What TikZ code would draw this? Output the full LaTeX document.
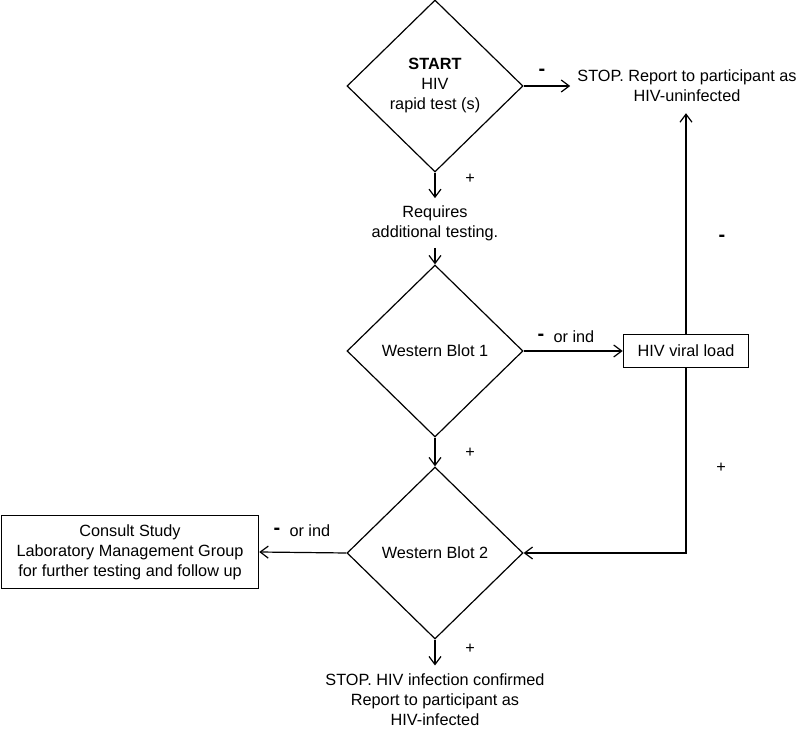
\documentclass[tikz,border=0pt]{standalone}
\usepackage{fontspec}
\setmainfont{Liberation Sans}
\usetikzlibrary{shapes.geometric, arrows.meta, positioning, calc}

\begin{document}
\begin{tikzpicture}[x=0.75pt, y=-0.75pt, font=\fontsize{12.2}{15}\selectfont,
    >={Straight Barb[length=6pt, width=9pt]}, line width=0.9pt,
    decision/.style={draw, diamond, inner sep=0pt, minimum width=132pt, minimum height=129pt, align=center},
    stepbox/.style={draw, rectangle, align=center, inner sep=0pt},
    note/.style={align=center, inner sep=5pt},
    sgn/.style={font=\fontsize{15}{15}\selectfont\bfseries, inner sep=0pt},
    pls/.style={inner sep=0pt}]
    \useasboundingbox (0,0) rectangle (800,730);

    \node[decision] (start) at (435,86) {\textbf{START}\\HIV\\rapid test (s)};
    \node[note] (neg) at (687,86) {STOP. Report to participant as\\HIV-uninfected};
    \node[note] (req) at (435,223) {Requires\\additional testing.};
    \node[decision] (wb1) at (435,351) {Western Blot 1};
    \node[stepbox, minimum width=94pt, minimum height=25pt] (vl) at (686,351) {HIV viral load};
    \node[decision] (wb2) at (435,553) {Western Blot 2};
    \node[stepbox, minimum width=193pt, minimum height=55pt] (lmg) at (130,552) {Consult Study\\Laboratory Management Group\\for further testing and follow up};
    \node[note, inner ysep=2pt] (pos) at (435,700) {STOP. HIV infection confirmed\\Report to participant as\\HIV-infected};

    \draw[->] (start.east) -- (start.east -| neg.west);
    \draw[->] (start.south) -- (req.north);
    \draw[->] (req.south) -- (wb1.north);
    \draw[->] (wb1.east) -- (vl.west);
    \draw[->, shorten >=3pt] (vl.north) -- (vl.north |- neg.south);
    \draw[->] (wb1.south) -- (wb2.north);
    \draw[->] (vl.south) |- (wb2.east);
    \draw[->] (wb2.west) -- (lmg.east);
    \draw[->, shorten >=4pt] (wb2.south) -- (pos.north);

    % signs on the branches
    \node[sgn] (s1) at (542,72) {-};
    \node[pls] (p1) at (470,179) {+};
    \node[sgn] (s2) at (541,337) {-};
    \node[pls, right=6pt of s2] (o1) {or ind};
    \node[sgn] (s3) at (722,238) {-};
    \node[pls] (p2) at (470,453) {+};
    \node[pls] (p3) at (721,468) {+};
    \node[sgn] (s4) at (277,531) {-};
    \node[pls, right=6pt of s4] (o2) {or ind};
    \node[pls] (p4) at (470,649) {+};
\end{tikzpicture}
\end{document}
